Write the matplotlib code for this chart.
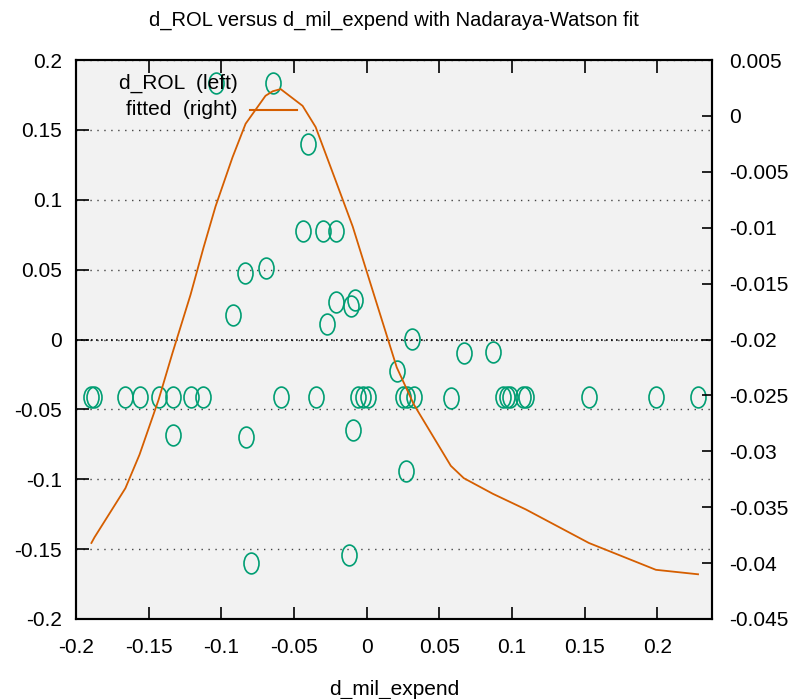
import numpy as np
import matplotlib.pyplot as plt
from matplotlib.markers import MarkerStyle
from matplotlib.transforms import Affine2D

plt.rcParams['font.family'] = ['Liberation Sans Narrow', 'Liberation Sans', 'DejaVu Sans']

# observations: d_mil_expend vs d_ROL (left axis)
mil_x = [-0.1894, -0.1873, -0.1660, -0.1563, -0.1432, -0.1336, -0.1212, -0.1123,
         -0.0592, -0.0351, -0.0062, -0.0028, 0.0007, 0.0248, 0.0275, 0.0324,
         0.0579, 0.0937, 0.0964, 0.0985, 0.1074, 0.1095, 0.1529, 0.1990, 0.2280,
         -0.1040, -0.0406, -0.0441, -0.0303, -0.0213, -0.0840, -0.0696, -0.0923,
         -0.0275, -0.0213, -0.0110, -0.0083, -0.1336, -0.0833, -0.0096, -0.0799,
         -0.0124, 0.0207, 0.0310, 0.0668, 0.0868, 0.0269]
rol_y = [-0.0408, -0.0408, -0.0408, -0.0408, -0.0408, -0.0408, -0.0408, -0.0408,
         -0.0408, -0.0408, -0.0408, -0.0408, -0.0408, -0.0408, -0.0408, -0.0408,
         -0.0422, -0.0408, -0.0408, -0.0408, -0.0408, -0.0408, -0.0408, -0.0408, -0.0408,
         0.1838, 0.1402, 0.0773, 0.0773, 0.0773, 0.0479, 0.0515, 0.0172,
         0.0114, 0.0265, 0.0243, 0.0286, -0.0680, -0.0701, -0.0651, -0.1602,
         -0.1545, -0.0222, 0.0007, -0.0100, -0.0086, -0.0944]

# Nadaraya-Watson fit (right axis)
fit_x = [-0.1894, -0.1873, -0.1660, -0.1563, -0.1432, -0.1336, -0.1212, -0.1123,
         -0.1040, -0.0923, -0.0833, -0.0696, -0.0647, -0.0592, -0.0441, -0.0351,
         -0.0213, -0.0096, 0.0007, 0.0207, 0.0324, 0.0579, 0.0668, 0.0868,
         0.1095, 0.1529, 0.1990, 0.2280]
fit_y = [-0.0382, -0.0377, -0.0333, -0.0303, -0.0254, -0.0212, -0.0160, -0.0118,
         -0.0081, -0.0037, -0.0007, 0.0018, 0.0022, 0.0024, 0.0009, -0.0010,
         -0.0058, -0.0099, -0.0142, -0.0225, -0.0258, -0.0313, -0.0324, -0.0338,
         -0.0352, -0.0382, -0.0406, -0.0410]

x_ticks = [-0.2, -0.15, -0.1, -0.05, 0, 0.05, 0.1, 0.15, 0.2]
x_labels = ['-0.2', '-0.15', '-0.1', '-0.05', '0', '0.05', '0.1', '0.15', '0.2']
y_ticks = [-0.2, -0.15, -0.1, -0.05, 0, 0.05, 0.1, 0.15, 0.2]
y_labels = ['-0.2', '-0.15', '-0.1', '-0.05', '0', '0.05', '0.1', '0.15', '0.2']
y2_ticks = [-0.045, -0.04, -0.035, -0.03, -0.025, -0.02, -0.015, -0.01, -0.005, 0, 0.005]
y2_labels = ['-0.045', '-0.04', '-0.035', '-0.03', '-0.025', '-0.02', '-0.015',
             '-0.01', '-0.005', '0', '0.005']

green = '#009e73'
orange = '#d55e00'
fs = 15

fig = plt.figure(figsize=(7.95, 6.99), dpi=100)
ax = fig.add_axes([76 / 795, 80 / 699, 636 / 795, 559 / 699])
ax.set_facecolor('#f2f2f2')
ax2 = ax.twinx()

# scatter of observations (tall open circles as in gnuplot)
circ = MarkerStyle('o', transform=Affine2D().scale(0.72, 1.0))
ax.plot(mil_x, rol_y, linestyle='none', marker=circ, markersize=15,
        markerfacecolor='none', markeredgecolor=green, markeredgewidth=1.2)

# fitted curve
ax2.plot(fit_x, fit_y, color=orange, lw=1.3)

ax.set_xlim(-0.2, 0.2376)
ax.set_ylim(-0.2, 0.2)
ax2.set_ylim(-0.045, 0.005)

ax.set_xticks(x_ticks, x_labels)
ax.set_yticks(y_ticks, y_labels)
ax2.set_yticks(y2_ticks, y2_labels)

ax.tick_params(direction='in', length=9, width=1.2, top=True, right=False,
               labelsize=fs, colors='black')
ax.tick_params(axis='x', pad=14)
ax.tick_params(axis='y', pad=10)
ax2.tick_params(direction='in', length=7, width=1.2, labelsize=fs, pad=12)

# grid on left y ticks
ax.grid(axis='y', linestyle=(0, (1, 4)), color='#444444', lw=1.0)
ax.axhline(0, linestyle=(0, (1, 2)), color='black', lw=1.2)
ax.set_axisbelow(True)

for a in (ax, ax2):
    for s in a.spines.values():
        s.set_linewidth(1.5)

# gnuplot style key: right-justified text, sample to the right
ax.text(0.2547, 0.9589, 'd_ROL  (left)', transform=ax.transAxes, ha='right',
        va='center', fontsize=fs)
ax.text(0.2547, 0.9106, 'fitted  (right)', transform=ax.transAxes, ha='right',
        va='center', fontsize=fs)
ax.plot([0.3097], [0.9589], transform=ax.transAxes, linestyle='none', marker=circ,
        markersize=15, markerfacecolor='none', markeredgecolor=green,
        markeredgewidth=1.2, clip_on=False)
ax.plot([0.2736, 0.3475], [0.9106, 0.9106], transform=ax.transAxes,
        color=orange, lw=1.5, clip_on=False)

ax.set_xlabel('d_mil_expend', fontsize=fs, labelpad=16)
fig.text(0.496, 1 - 20 / 699, 'd_ROL versus d_mil_expend with Nadaraya-Watson fit',
         ha='center', va='center', fontsize=14.5)

fig.savefig('out.png', dpi=100)
